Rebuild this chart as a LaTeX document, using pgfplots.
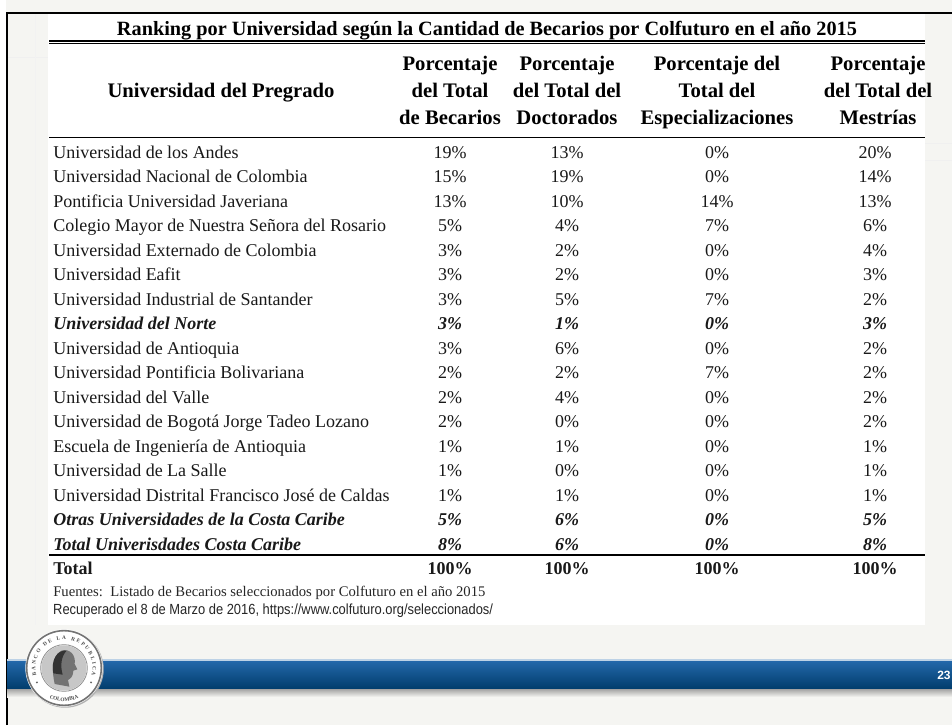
\documentclass[border=0pt]{standalone}
\usepackage{fontspec}
\setmainfont{Liberation Serif}
\setsansfont{Liberation Sans}
\usepackage{pgfplots}
\pgfplotsset{compat=1.18}
\usepackage{pgfplotstable}
\usetikzlibrary{decorations.text}

\definecolor{slidebg}{HTML}{F5F5F2}
\definecolor{bartop}{HTML}{2469AC}
\definecolor{barbot}{HTML}{023E6E}

% row; university; % of scholars; % doctorates; % specialisations; % masters
\pgfplotstableread[col sep=semicolon]{
row;name;b;d;e;m
0;Universidad de los Andes;19;13;0;20
1;Universidad Nacional de Colombia;15;19;0;14
2;Pontificia Universidad Javeriana;13;10;14;13
3;Colegio Mayor de Nuestra Señora del Rosario;5;4;7;6
4;Universidad Externado de Colombia;3;2;0;4
5;Universidad Eafit;3;2;0;3
6;Universidad Industrial de Santander;3;5;7;2
8;Universidad de Antioquia;3;6;0;2
9;Universidad Pontificia Bolivariana;2;2;7;2
10;Universidad del Valle;2;4;0;2
11;Universidad de Bogotá Jorge Tadeo Lozano;2;0;0;2
12;Escuela de Ingeniería de Antioquia;1;1;0;1
13;Universidad de La Salle;1;0;0;1
14;Universidad Distrital Francisco José de Caldas;1;1;0;1
}\plainrows

\pgfplotstableread[col sep=semicolon]{
row;name;b;d;e;m
7;Universidad del Norte;3;1;0;3
15;Otras Universidades de la Costa Caribe;5;6;0;5
16;Total Univerisdades Costa Caribe;8;6;0;8
}\coastrows

\pgfplotstableread[col sep=semicolon]{
row;name;b;d;e;m
17;Total;100;100;100;100
}\totalrow

\pgfplotsset{
  cell/.style={only marks, mark=*, mark size=0pt, mark options={draw=none, fill=none},
    point meta=explicit symbolic,
    every node near coord/.append style={anchor=base, inner sep=0pt, text=black!90}},
  namecell/.style={cell, nodes near coords,
    every node near coord/.append style={anchor=base west}},
  numcell/.style={cell, nodes near coords={\pgfplotspointmeta\%}},
}

\newcommand\bodyfont{\fontsize{13.5}{15}\selectfont}
\newcommand\headfont{\fontsize{15.5}{17}\selectfont\bfseries}

% one group of rows: table, font
\newcommand\tablerows[2]{%
  \addplot[namecell, every node near coord/.append style={font=#2}]
    table[x expr=53, y expr=158+24.5*\thisrow{row}, meta=name] {#1};
  \addplot[numcell, every node near coord/.append style={font=#2}]
    table[x expr=450, y expr=158+24.5*\thisrow{row}, meta=b] {#1};
  \addplot[numcell, every node near coord/.append style={font=#2}]
    table[x expr=567, y expr=158+24.5*\thisrow{row}, meta=d] {#1};
  \addplot[numcell, every node near coord/.append style={font=#2}]
    table[x expr=717, y expr=158+24.5*\thisrow{row}, meta=e] {#1};
  \addplot[numcell, every node near coord/.append style={font=#2}]
    table[x expr=875, y expr=158+24.5*\thisrow{row}, meta=m] {#1};
}

\begin{document}
\begin{tikzpicture}
\useasboundingbox (0,0) rectangle (714pt,543.75pt);
\clip (0,0) rectangle (714pt,543.75pt);
\begin{axis}[at={(0,0)}, anchor=south west, scale only axis,
  width=714pt, height=543.75pt,
  xmin=0, xmax=952, ymin=0, ymax=725, y dir=reverse,
  hide axis, clip=false]

% slide background
\fill[slidebg] (axis cs:0,0) rectangle (axis cs:952,725);
\fill[white] (axis cs:0,0) rectangle (axis cs:6,725);
\draw[black!6, line width=0.75pt] (axis cs:8,57) -- (axis cs:48,57);
\draw[black!5, line width=0.75pt] (axis cs:35,14) -- (axis cs:35,625);
\draw[black!6, line width=0.75pt] (axis cs:925,143) -- (axis cs:952,143);
\draw[black!6, line width=0.75pt] (axis cs:925,160) -- (axis cs:952,160);
\fill[white] (axis cs:48,13) rectangle (axis cs:925,625);

% slide frame
\draw[black, line width=2.2pt] (axis cs:7,725) -- (axis cs:7,13) -- (axis cs:952,13);

% title and rules
\node[anchor=base, font=\fontsize{15.2}{17}\selectfont\bfseries] at (axis cs:487,35)
  {Ranking por Universidad según la Cantidad de Becarios por Colfuturo en el año 2015};
\draw[line width=1.5pt] (axis cs:49,40.5) -- (axis cs:925,40.5);
\draw[line width=0.75pt] (axis cs:49,43.6) -- (axis cs:925,43.6);

% column headers
\node[anchor=base, font=\headfont] at (axis cs:221,97) {Universidad del Pregrado};
\node[anchor=base, font=\headfont] at (axis cs:450,70) {Porcentaje};
\node[anchor=base, font=\headfont] at (axis cs:450,97) {del Total};
\node[anchor=base, font=\headfont] at (axis cs:450,124) {de Becarios};
\node[anchor=base, font=\headfont] at (axis cs:567,70) {Porcentaje};
\node[anchor=base, font=\headfont] at (axis cs:567,97) {del Total del};
\node[anchor=base, font=\headfont] at (axis cs:567,124) {Doctorados};
\node[anchor=base, font=\headfont] at (axis cs:717,70) {Porcentaje del};
\node[anchor=base, font=\headfont] at (axis cs:717,97) {Total del};
\node[anchor=base, font=\headfont] at (axis cs:717,124) {Especializaciones};
\node[anchor=base, font=\headfont] at (axis cs:878,70) {Porcentaje};
\node[anchor=base, font=\headfont] at (axis cs:878,97) {del Total del};
\node[anchor=base, font=\headfont] at (axis cs:878,124) {Mestrías};
\draw[line width=1.1pt] (axis cs:49,137.5) -- (axis cs:925,137.5);
\draw[line width=1.1pt] (axis cs:49,555) -- (axis cs:925,555);

% table body
\tablerows{\plainrows}{\bodyfont}
\tablerows{\coastrows}{\bodyfont\bfseries\itshape}
\tablerows{\totalrow}{\bodyfont\bfseries}

% sources
\node[anchor=base west, inner sep=0pt, font=\fontsize{11}{12}\selectfont, text=black!85]
  at (axis cs:53,596)
  {Fuentes:\ \ Listado de Becarios seleccionados por Colfuturo en el año 2015};
\node[anchor=base west, inner sep=0pt, font=\sffamily\fontsize{11}{12}\selectfont, text=black!85,
  xscale=0.88, transform shape] at (axis cs:53,614)
  {Recuperado el 8 de Marzo de 2016, https://www.colfuturo.org/seleccionados/};

% footer bar
\fill[top color=black!40, bottom color=slidebg] (axis cs:7,688) rectangle (axis cs:952,697);
\fill[top color=bartop, bottom color=barbot] (axis cs:7,660) rectangle (axis cs:952,688);
\draw[bartop!30, line width=0.8pt] (axis cs:7,660) -- (axis cs:952,660);
\node[anchor=base west, inner sep=0pt, text=white, font=\sffamily\bfseries\fontsize{9}{11}\selectfont]
  at (axis cs:937,679) {23};
\end{axis}

% seal of the bank
\begin{scope}[shift={(48pt,42.75pt)}]
  \fill[black!30] (0.8pt,-0.8pt) circle (29pt);
  \fill[white] (0,0) circle (29pt);
  \draw[black!55, line width=1.2pt] (0,0) circle (28pt);
  \draw[black!45, line width=0.6pt] (0,0) circle (17.5pt);
  \fill[black!22] (0,0) circle (17pt);
  % profile of the head
  \fill[black!55] (-7pt,-12pt) .. controls (-9pt,-2pt) and (-10pt,8pt) .. (-2pt,13pt)
    .. controls (5pt,15pt) and (9pt,9pt) .. (8pt,3pt)
    -- (10pt,-1pt) -- (7pt,-2pt) .. controls (7pt,-6pt) and (5pt,-8pt) .. (3pt,-9pt)
    -- (4pt,-14pt) -- cycle;
  \fill[black!80] (-8pt,-4pt) .. controls (-10pt,6pt) and (-5pt,14pt) .. (2pt,13pt)
    .. controls (-2pt,9pt) and (-3pt,2pt) .. (-1pt,-5pt) -- cycle;
  \path[decorate, decoration={text along path, text align=fit to path,
    text={|\fontsize{4}{5}\selectfont\bfseries\color{black!70}|BANCO DE LA REPUBLICA}}]
    (195:21.5pt) arc (195:-15:21.5pt);
  \path[decorate, decoration={text along path, text align=center,
    text={|\fontsize{4}{5}\selectfont\bfseries\color{black!70}|COLOMBIA}}]
    (230:25pt) arc (230:310:25pt);
  \fill[black!60] (208:23pt) circle (0.8pt);
  \fill[black!60] (-28:23pt) circle (0.8pt);
\end{scope}
\end{tikzpicture}
\end{document}
